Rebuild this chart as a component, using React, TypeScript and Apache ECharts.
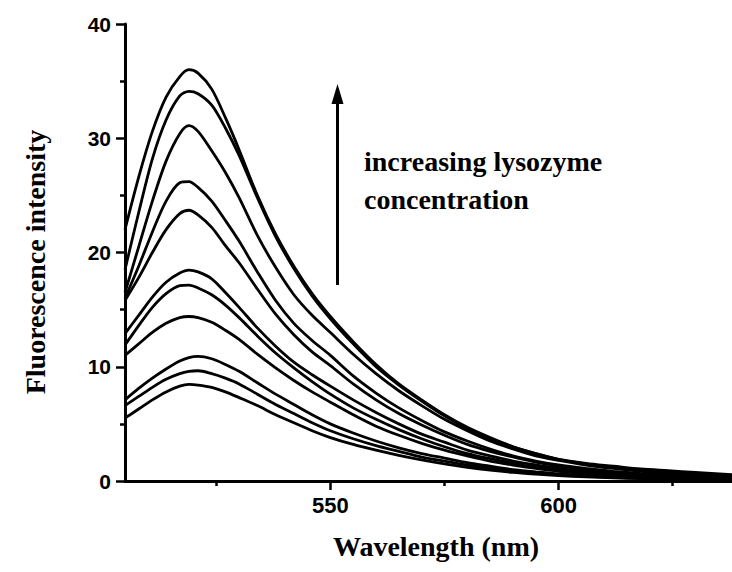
import React, { useEffect, useRef } from "react";
import * as echarts from "echarts";

const wavelengths = [505, 508, 511, 514, 517, 519, 521, 524, 527, 530, 534, 538, 542, 546, 550, 555, 560, 565, 570, 575, 580, 585, 590, 595, 600, 606, 612, 618, 624, 630, 638];

const c1 = [22.0, 26.6, 30.6, 33.6, 35.4, 36.0, 35.7, 34.3, 31.8, 29.0, 25.0, 21.6, 18.8, 16.4, 14.4, 12.2, 10.2, 8.5, 7.1, 5.8, 4.7, 3.8, 3.0, 2.4, 1.9, 1.55, 1.3, 1.05, 0.9, 0.75, 0.55];
const c2 = [18.5, 23.5, 28.2, 31.6, 33.7, 34.1, 33.9, 32.9, 30.9, 28.5, 24.8, 21.4, 18.6, 16.2, 14.2, 12.0, 10.0, 8.4, 7.0, 5.7, 4.6, 3.7, 3.0, 2.4, 1.9, 1.5, 1.2, 0.95, 0.8, 0.6, 0.45];
const c3 = [16.5, 20.5, 24.5, 28.0, 30.4, 31.1, 30.6, 28.9, 27.0, 24.8, 21.5, 18.7, 16.3, 14.5, 13.0, 11.1, 9.4, 7.9, 6.6, 5.4, 4.4, 3.5, 2.8, 2.2, 1.8, 1.4, 1.1, 0.85, 0.65, 0.5, 0.35];
const c4 = [16.0, 18.8, 21.8, 24.5, 26.1, 26.2, 25.7, 24.5, 22.8, 21.0, 18.3, 15.8, 13.8, 12.3, 11.0, 9.2, 7.7, 6.4, 5.3, 4.3, 3.5, 2.8, 2.2, 1.75, 1.4, 1.1, 0.85, 0.65, 0.5, 0.35, 0.25];
const c5 = [15.8, 17.8, 20.0, 22.0, 23.4, 23.7, 23.3, 22.2, 20.6, 19.1, 16.8, 14.6, 12.8, 11.3, 10.1, 8.5, 7.1, 5.9, 4.9, 4.0, 3.2, 2.6, 2.1, 1.65, 1.3, 1.0, 0.8, 0.6, 0.45, 0.3, 0.2];
const c6 = [12.9, 14.5, 16.1, 17.4, 18.2, 18.46, 18.3, 17.7, 16.5, 15.2, 13.4, 11.8, 10.4, 9.3, 8.3, 7.1, 6.0, 5.0, 4.1, 3.4, 2.7, 2.2, 1.75, 1.4, 1.1, 0.85, 0.65, 0.5, 0.35, 0.25, 0.15];
const c7 = [11.9, 13.6, 15.2, 16.4, 17.1, 17.15, 16.9, 16.3, 15.4, 14.3, 12.7, 11.2, 9.9, 8.7, 7.6, 6.4, 5.4, 4.5, 3.7, 3.0, 2.4, 1.95, 1.55, 1.2, 0.95, 0.75, 0.55, 0.4, 0.3, 0.2, 0.12];
const c8 = [11.0, 12.0, 13.0, 13.8, 14.3, 14.4, 14.3, 13.9, 13.2, 12.4, 11.1, 9.9, 8.8, 7.8, 6.9, 5.8, 4.8, 4.0, 3.3, 2.7, 2.2, 1.75, 1.4, 1.1, 0.85, 0.65, 0.5, 0.38, 0.28, 0.2, 0.12];
const c9 = [7.1, 8.1, 9.0, 9.8, 10.5, 10.8, 10.9, 10.7, 10.2, 9.6, 8.6, 7.6, 6.7, 5.8, 5.0, 4.2, 3.5, 2.9, 2.4, 2.0, 1.6, 1.3, 1.0, 0.8, 0.62, 0.48, 0.36, 0.27, 0.2, 0.14, 0.08];
const c10 = [6.6, 7.4, 8.2, 8.9, 9.4, 9.6, 9.65, 9.4, 9.0, 8.5, 7.6, 6.7, 5.9, 5.1, 4.4, 3.7, 3.1, 2.6, 2.1, 1.75, 1.4, 1.1, 0.9, 0.7, 0.55, 0.42, 0.32, 0.24, 0.17, 0.12, 0.07];
const c11 = [5.5, 6.3, 7.1, 7.8, 8.3, 8.45, 8.4, 8.2, 7.8, 7.3, 6.6, 5.8, 5.1, 4.4, 3.8, 3.2, 2.7, 2.25, 1.85, 1.5, 1.2, 0.95, 0.75, 0.6, 0.47, 0.36, 0.27, 0.2, 0.15, 0.1, 0.06];

const curves = [c1, c2, c3, c4, c5, c6, c7, c8, c9, c10, c11];

const xMajorTicks = [550, 600];
const xMinorTicks = [525, 575, 625];
const yTicks = [0, 10, 20, 30, 40];

const xTitle = "Wavelength (nm)";
const yTitle = "Fluorescence intensity";
const noteLines = ["increasing lysozyme", "concentration"];

export default function App() {
  const ref = useRef<HTMLDivElement>(null);

  useEffect(() => {
    if (!ref.current) return;
    const chart = echarts.init(ref.current, null, { renderer: "svg" });
    const serif = "'Liberation Serif', 'Times New Roman', serif";
    const sans = "'Liberation Sans', Arial, sans-serif";
    const option: any = {
      animation: false,
      backgroundColor: "#fff",
      grid: {
        left: 125,
        right: 0,
        top: 24,
        bottom: 91,
        containLabel: false,
        outerBoundsMode: "none",
      },
      xAxis: [
        {
          type: "value",
          position: "bottom",
          min: 505,
          max: 638,
          splitLine: { show: false },
          axisLine: { show: true, onZero: false, lineStyle: { color: "#000", width: 3 } },
          axisTick: {
            show: true,
            customValues: xMajorTicks,
            length: 9,
            lineStyle: { color: "#000", width: 2.5 },
          },
          axisLabel: {
            show: true,
            customValues: xMajorTicks,
            margin: 13,
            color: "#000",
            fontSize: 22,
            fontWeight: "bold",
            fontFamily: sans,
          },
        },
        {
          type: "value",
          position: "bottom",
          min: 505,
          max: 638,
          splitLine: { show: false },
          axisLine: { show: false, onZero: false },
          axisTick: {
            show: true,
            customValues: xMinorTicks,
            length: 5,
            lineStyle: { color: "#000", width: 2.5 },
          },
          axisLabel: { show: false },
        },
      ],
      yAxis: {
        type: "value",
        min: yTicks[0],
        max: yTicks[yTicks.length - 1],
        interval: 10,
        splitLine: { show: false },
        axisLine: { show: true, onZero: false, lineStyle: { color: "#000", width: 3 } },
        axisTick: { show: true, length: 9, lineStyle: { color: "#000", width: 2.5 } },
        minorTick: { show: true, splitNumber: 2, length: 5, lineStyle: { color: "#000", width: 2.5 } },
        axisLabel: {
          margin: 14,
          color: "#000",
          fontSize: 21,
          fontWeight: "bold",
          fontFamily: sans,
        },
      },
      series: curves.map((c, i) => ({
        name: "c" + (i + 1),
        type: "line",
        xAxisIndex: 0,
        yAxisIndex: 0,
        data: wavelengths.map((w, j) => [w, c[j]]),
        symbol: "none",
        smooth: 0.3,
        lineStyle: { color: "#000", width: 2.8 },
        z: 2,
      })),
      graphic: [
        {
          type: "text",
          x: 436,
          y: 546,
          style: {
            text: xTitle,
            font: `bold 28px ${serif}`,
            fill: "#000",
            align: "center",
            verticalAlign: "middle",
          },
        },
        {
          type: "text",
          x: 35,
          y: 262,
          rotation: Math.PI / 2,
          style: {
            text: yTitle,
            font: `bold 28px ${serif}`,
            fill: "#000",
            align: "center",
            verticalAlign: "middle",
          },
        },
        {
          type: "text",
          x: 364,
          y: 147,
          style: {
            text: noteLines[0],
            font: `bold 28px ${serif}`,
            fill: "#000",
            align: "left",
            verticalAlign: "top",
          },
        },
        {
          type: "text",
          x: 364,
          y: 185,
          style: {
            text: noteLines[1],
            font: `bold 28px ${serif}`,
            fill: "#000",
            align: "left",
            verticalAlign: "top",
          },
        },
        {
          type: "line",
          shape: { x1: 337.5, y1: 285, x2: 337.5, y2: 100 },
          style: { stroke: "#000", lineWidth: 3 },
        },
        {
          type: "polygon",
          shape: { points: [[337.5, 84], [331.5, 104], [343.5, 104]] },
          style: { fill: "#000" },
        },
      ],
    };
    chart.setOption(option);
    return () => chart.dispose();
  }, []);

  return (
    <div
      ref={ref}
      style={{ position: "fixed", left: 0, top: 0, width: 732, height: 572, background: "#fff" }}
    />
  );
}
